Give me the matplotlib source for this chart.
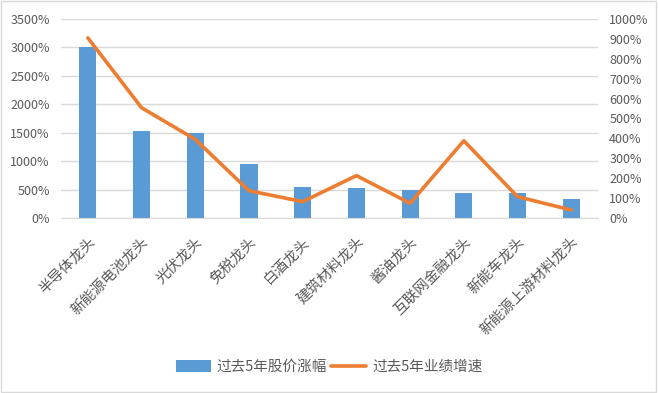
import matplotlib.pyplot as plt
import matplotlib.ticker as mticker
from matplotlib.patches import Rectangle

plt.rcParams['font.family'] = ['Noto Sans CJK SC', 'DejaVu Sans']

categories = ['半导体龙头', '新能源电池龙头', '光伏龙头', '免税龙头', '白酒龙头',
              '建筑材料龙头', '酱油龙头', '互联网金融龙头', '新能车龙头', '新能源上游材料龙头']
price_gain = [3000, 1530, 1500, 950, 550, 530, 490, 445, 445, 340]
profit_growth = [905, 554, 395, 137, 82, 213, 74, 388, 107, 40]

bar_color = '#5B9BD5'
line_color = '#ED7D31'
text_color = '#595959'

fig = plt.figure(figsize=(6.58, 3.93), dpi=100)
ax = fig.add_axes([0.0927, 0.4453, 0.8163, 0.5064])
ax2 = ax.twinx()

x = range(len(categories))
ax.bar(x, price_gain, width=0.32, color=bar_color, label='过去5年股价涨幅', zorder=2)
ax2.plot(x, profit_growth, color=line_color, linewidth=2.6, label='过去5年业绩增速',
         solid_capstyle='round', solid_joinstyle='round')

ax.set_xlim(-0.5, len(categories) - 0.5)
ax.set_ylim(0, 3500)
ax2.set_ylim(0, 1000)
ax.set_yticks(range(0, 3501, 500))
ax2.set_yticks(range(0, 1001, 100))
ax.yaxis.set_major_formatter(mticker.FuncFormatter(lambda v, p: f'{int(v)}%'))
ax2.yaxis.set_major_formatter(mticker.FuncFormatter(lambda v, p: f'{int(v)}%'))

ax.grid(axis='y', color='#D9D9D9', linewidth=1, zorder=0)
for a in (ax, ax2):
    for s in a.spines.values():
        s.set_visible(False)
    a.tick_params(length=0, colors=text_color, labelsize=9)
ax.spines['bottom'].set_visible(True)
ax.spines['bottom'].set_color('#D9D9D9')
ax.tick_params(axis='y', pad=8)
ax2.tick_params(axis='y', pad=8)

ax.set_xticks(list(x))
ax.set_xticklabels(categories, rotation=45, ha='right', rotation_mode='anchor',
                   fontsize=10.5, color=text_color)
ax.tick_params(axis='x', pad=12)

h1, l1 = ax.get_legend_handles_labels()
h2, l2 = ax2.get_legend_handles_labels()
fig.legend(h1 + h2, l1 + l2, loc='center', bbox_to_anchor=(0.5, 0.066), ncol=2,
           frameon=False, fontsize=10.5, labelcolor=text_color, handlelength=2.4,
           handleheight=0.8, columnspacing=0.3, handletextpad=0.4)

fig.patches.append(Rectangle((0.002, 0.003), 0.995, 0.994, transform=fig.transFigure,
                             fill=False, edgecolor='#D9D9D9', linewidth=1))

fig.savefig('out.png', dpi=100)
